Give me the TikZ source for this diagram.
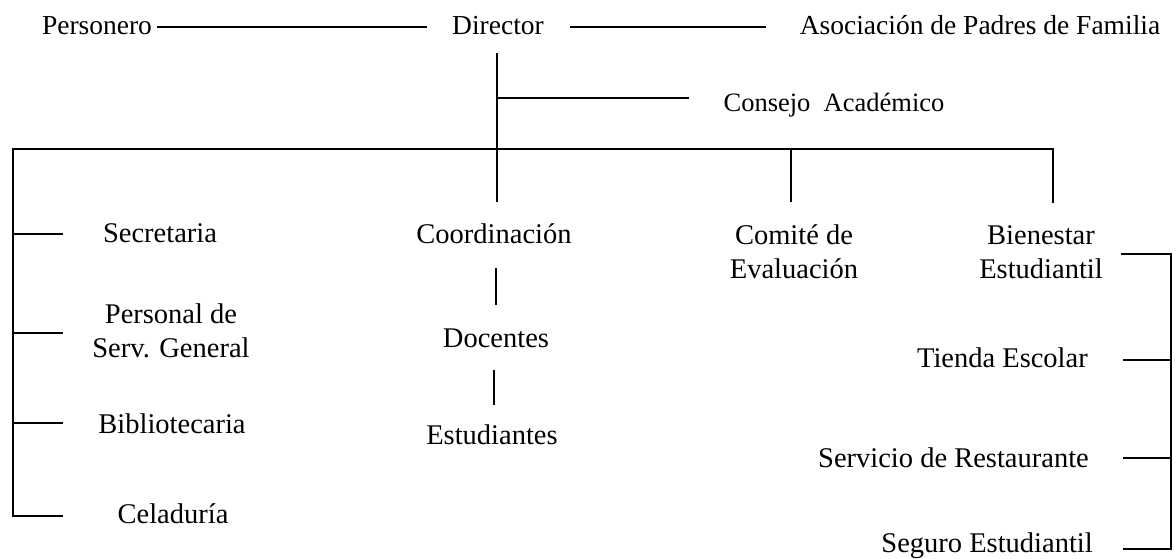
\documentclass[tikz,border=0pt]{standalone}
\usepackage{fontspec}
\setmainfont{Liberation Serif}
\begin{document}
\begin{tikzpicture}[x=1pt,y=-1pt,
  lbl/.style={inner sep=0pt, anchor=base, font=\fontsize{28.5}{32}\selectfont},
  toplbl/.style={lbl, font=\fontsize{27.5}{32}\selectfont},
  two/.style={inner sep=0pt, align=center, font=\fontsize{28.5}{34}\selectfont},
  ln/.style={line width=1.6pt}]
\useasboundingbox (0,0) rectangle (1176,558);
% text nodes
\node[toplbl] (pers) at (97,34) {Personero};
\node[toplbl] (dir) at (498,34) {Director};
\node[toplbl] (apf) at (980,34) {Asociación de Padres de Familia};
\node[lbl, font=\fontsize{26.5}{30}\selectfont] (cons) at (834,111) {Consejo\ \ Académico};
\node[lbl] (coord) at (494,243) {Coordinación};
\node[lbl] (doc) at (496,347) {Docentes};
\node[lbl] (est) at (492,444) {Estudiantes};
\node[two] (com) at (794,252) {Comité de\\Evaluación};
\node[two] (bien) at (1041,252) {Bienestar\\Estudiantil};
\node[lbl] (sec) at (160,242) {Secretaria};
\node[two] (psg) at (171,331) {Personal de\\Serv. General};
\node[lbl] (bib) at (172,433) {Bibliotecaria};
\node[lbl] (cel) at (173,523) {Celaduría};
\node[lbl, anchor=base east] (tie) at (1088,367) {Tienda Escolar};
\node[lbl, anchor=base east] (serv) at (1089,467) {Servicio de Restaurante};
\node[lbl, anchor=base east] (seg) at (1093,552) {Seguro Estudiantil};
% junction coordinates
\coordinate (p1) at (157,27);
\coordinate (p2) at (427,27);
\coordinate (d1) at (570,27);
\coordinate (d2) at (766,27);
\coordinate (v0) at (497,53);
\coordinate (v1) at (497,98);
\coordinate (c1) at (689,98);
\coordinate (v3) at (497,202);
\coordinate (L0) at (13,149);
\coordinate (R0) at (1053,149);
\coordinate (R1) at (1053,203);
\coordinate (cm0) at (791,149);
\coordinate (cm1) at (791,202);
\coordinate (ls) at (13,234);
\coordinate (lse) at (63,234);
\coordinate (lp) at (13,333);
\coordinate (lpe) at (63,333);
\coordinate (lb) at (13,423);
\coordinate (lbe) at (63,423);
\coordinate (lc) at (13,516);
\coordinate (lce) at (63,516);
\coordinate (cd0) at (496,268);
\coordinate (cd1) at (496,305);
\coordinate (de0) at (494,370);
\coordinate (de1) at (494,405);
\coordinate (b0) at (1121,254);
\coordinate (b1) at (1171,254);
\coordinate (bt) at (1171,360);
\coordinate (bte) at (1123,360);
\coordinate (bs) at (1171,458);
\coordinate (bse) at (1123,458);
\coordinate (bg) at (1171,549);
\coordinate (bge) at (1123,549);
% connectors
\draw[ln] (p1) -- (p2);
\draw[ln] (d1) -- (d2);
\draw[ln] (v0) -- (v3);
\draw[ln] (v1) -- (c1);
\draw[ln] (lce) -- (lc) -- (L0) -- (R0) -- (R1);
\draw[ln] (cm0) -- (cm1);
\draw[ln] (ls) -- (lse);
\draw[ln] (lp) -- (lpe);
\draw[ln] (lb) -- (lbe);
\draw[ln] (cd0) -- (cd1);
\draw[ln] (de0) -- (de1);
\draw[ln] (b0) -- (b1) -- (bg) -- (bge);
\draw[ln] (bt) -- (bte);
\draw[ln] (bs) -- (bse);
\end{tikzpicture}
\end{document}
